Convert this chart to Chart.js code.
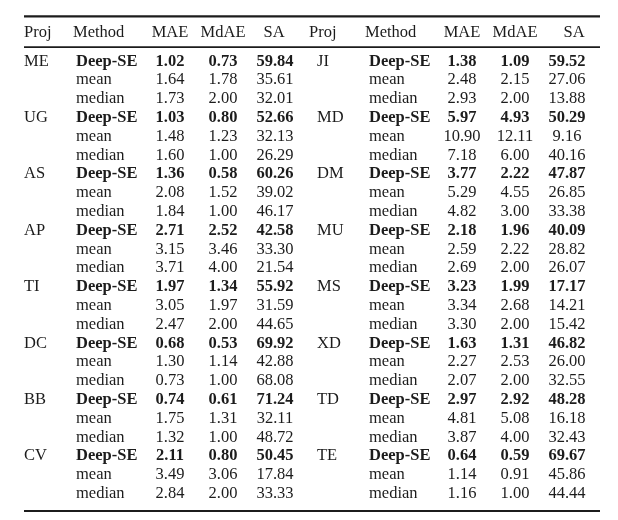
<!DOCTYPE html>
<html>
<head>
<meta charset="utf-8">
<script src="https://cdn.jsdelivr.net/npm/chart.js@4/dist/chart.umd.min.js"></script>
<style>
  body { margin: 0; background: #fff; }
  #wrap { width: 618px; height: 520px; }
</style>
</head>
<body>
<div id="wrap"><canvas id="table" width="618" height="520"></canvas></div>
<script>
  // table data, two halves side by side
  var headers = ['Proj', 'Method', 'MAE', 'MdAE', 'SA'];
  var methods = ['Deep-SE', 'mean', 'median'];

  var projLeft = ['ME', 'UG', 'AS', 'AP', 'TI', 'DC', 'BB', 'CV'];
  var maeLeft = [1.02, 1.64, 1.73, 1.03, 1.48, 1.60, 1.36, 2.08, 1.84, 2.71, 3.15, 3.71,
    1.97, 3.05, 2.47, 0.68, 1.30, 0.73, 0.74, 1.75, 1.32, 2.11, 3.49, 2.84];
  var mdaeLeft = [0.73, 1.78, 2.00, 0.80, 1.23, 1.00, 0.58, 1.52, 1.00, 2.52, 3.46, 4.00,
    1.34, 1.97, 2.00, 0.53, 1.14, 1.00, 0.61, 1.31, 1.00, 0.80, 3.06, 2.00];
  var saLeft = [59.84, 35.61, 32.01, 52.66, 32.13, 26.29, 60.26, 39.02, 46.17, 42.58, 33.30, 21.54,
    55.92, 31.59, 44.65, 69.92, 42.88, 68.08, 71.24, 32.11, 48.72, 50.45, 17.84, 33.33];

  var projRight = ['JI', 'MD', 'DM', 'MU', 'MS', 'XD', 'TD', 'TE'];
  var maeRight = [1.38, 2.48, 2.93, 5.97, 10.90, 7.18, 3.77, 5.29, 4.82, 2.18, 2.59, 2.69,
    3.23, 3.34, 3.30, 1.63, 2.27, 2.07, 2.97, 4.81, 3.87, 0.64, 1.14, 1.16];
  var mdaeRight = [1.09, 2.15, 2.00, 4.93, 12.11, 6.00, 2.22, 4.55, 3.00, 1.96, 2.22, 2.00,
    1.99, 2.68, 2.00, 1.31, 2.53, 2.00, 2.92, 5.08, 4.00, 0.59, 0.91, 1.00];
  var saRight = [59.52, 27.06, 13.88, 50.29, 9.16, 40.16, 47.87, 26.85, 33.38, 40.09, 28.82, 26.07,
    17.17, 14.21, 15.42, 46.82, 26.00, 32.55, 48.28, 16.18, 32.43, 69.67, 45.86, 44.44];

  // layout: column anchors on the x scale, header anchors, alignment
  var colX = [[24, 76, 170, 223, 275], [317, 369, 462, 515, 567]];
  var headX = [[24, 73, 170, 223, 274], [309, 365, 462, 515, 574]];
  var colAlign = ['left', 'left', 'center', 'center', 'center'];

  var HEADER_ROW = -1.54;
  var RULES = [-2.62, -0.98, 23.69];

  var FONT = '"Liberation Serif", "DejaVu Serif", serif';
  var FONT_SIZE = 16.5;
  var INK = '#1c1c1c';

  function buildColumns(proj, mae, mdae, sa) {
    var cols = [[], [], [], [], []];
    proj.forEach(function (p, g) {
      methods.forEach(function (m, k) {
        var i = g * methods.length + k;
        cols[0].push({ text: k === 0 ? p : '', bold: false });
        cols[1].push({ text: m, bold: k === 0 });
        cols[2].push({ text: mae[i].toFixed(2), bold: k === 0 });
        cols[3].push({ text: mdae[i].toFixed(2), bold: k === 0 });
        cols[4].push({ text: sa[i].toFixed(2), bold: k === 0 });
      });
    });
    return cols;
  }

  var halves = [
    buildColumns(projLeft, maeLeft, mdaeLeft, saLeft),
    buildColumns(projRight, maeRight, mdaeRight, saRight)
  ];

  var datasets = [];
  halves.forEach(function (cols, h) {
    cols.forEach(function (cells, c) {
      datasets.push({
        label: headers[c],
        cells: cells,
        align: colAlign[c],
        data: cells.map(function (cell, r) { return { x: colX[h][c], y: r }; }),
        pointRadius: 0,
        showLine: false
      });
    });
    // header row
    datasets.push({
      label: 'header',
      cells: headers.map(function (t) { return { text: t, bold: false }; }),
      aligns: headers.map(function (t, c) { return c < 2 ? 'left' : 'center'; }),
      data: headers.map(function (t, c) { return { x: headX[h][c], y: HEADER_ROW }; }),
      pointRadius: 0,
      showLine: false
    });
  });

  var rulesPlugin = {
    id: 'rules',
    afterDatasetsDraw: function (chart) {
      var ctx = chart.ctx;
      var y = chart.scales.y;
      var x = chart.scales.x;
      ctx.save();
      ctx.strokeStyle = INK;
      RULES.forEach(function (r, i) {
        var py = y.getPixelForValue(r);
        ctx.lineWidth = i === 1 ? 1.8 : 2.2;
        ctx.beginPath();
        ctx.moveTo(x.getPixelForValue(24), py);
        ctx.lineTo(x.getPixelForValue(600), py);
        ctx.stroke();
      });
      ctx.restore();
    }
  };

  var cellsPlugin = {
    id: 'cells',
    afterDatasetsDraw: function (chart) {
      var ctx = chart.ctx;
      ctx.save();
      ctx.fillStyle = INK;
      ctx.textBaseline = 'alphabetic';
      chart.data.datasets.forEach(function (ds, d) {
        var meta = chart.getDatasetMeta(d);
        meta.data.forEach(function (pt, j) {
          var cell = ds.cells[j];
          if (!cell.text) return;
          ctx.font = (cell.bold ? 'bold ' : '') + FONT_SIZE + 'px ' + FONT;
          ctx.textAlign = ds.aligns ? ds.aligns[j] : ds.align;
          ctx.fillText(cell.text, pt.x, pt.y);
        });
      });
      ctx.restore();
    }
  };

  var chart = new Chart(document.getElementById('table').getContext('2d'), {
    type: 'scatter',
    data: { datasets: datasets },
    options: {
      responsive: false,
      animation: false,
      events: [],
      layout: { padding: 0 },
      plugins: {
        legend: { display: false },
        tooltip: { enabled: false }
      },
      scales: {
        x: { type: 'linear', display: false, min: 0, max: 618 },
        y: { type: 'linear', display: false, reverse: true, min: -3.49, max: 24.17 }
      }
    },
    plugins: [rulesPlugin, cellsPlugin]
  });
</script>
</body>
</html>
